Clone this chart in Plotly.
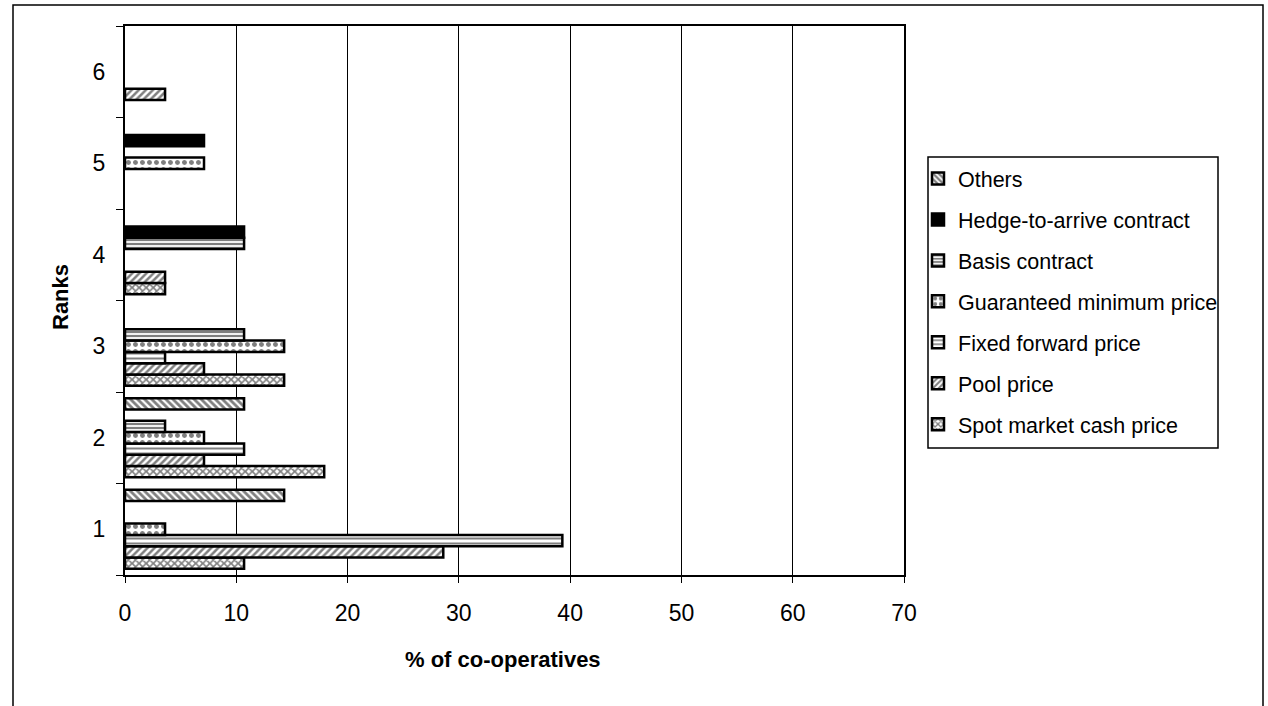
import plotly.graph_objects as go

# Share of co-operatives (%) giving each pricing method a given rank
ranks = ["1", "2", "3", "4", "5", "6"]

spot_market = [10.7, 17.9, 14.3, 3.6, None, None]
pool_price = [28.6, 7.1, 7.1, 3.6, None, 3.6]
fixed_forward = [39.3, 10.7, 3.6, None, None, None]
guaranteed_min = [3.6, 7.1, 14.3, None, 7.1, None]
basis_contract = [None, 3.6, 10.7, 10.7, None, None]
hedge_to_arrive = [None, None, None, 10.7, 7.1, None]
others = [14.3, 10.7, None, None, None, None]

x_ticks = [0, 10, 20, 30, 40, 50, 60, 70]

series = [
    ("Spot market cash price", spot_market, dict(shape="x", size=5, solidity=0.55)),
    ("Pool price", pool_price, dict(shape="/", size=5, solidity=0.5)),
    ("Fixed forward price", fixed_forward, dict(shape="-", size=5, solidity=0.4)),
    ("Guaranteed minimum price", guaranteed_min, dict(shape=".", size=7, solidity=0.4)),
    ("Basis contract", basis_contract, dict(shape="-", size=4, solidity=0.55)),
    ("Hedge-to-arrive contract", hedge_to_arrive, None),
    ("Others", others, dict(shape="\\", size=5, solidity=0.55)),
]

FONT = "Arial, Liberation Sans, sans-serif"

fig = go.Figure()
n = len(series)
for i, (name, vals, pat) in enumerate(series):
    marker = dict(line=dict(color="black", width=2.5))
    if pat is None:
        marker["color"] = "black"
    else:
        marker["color"] = "white"
        marker["pattern"] = dict(fgcolor="black", bgcolor="white", fillmode="overlay", **pat)
    fig.add_trace(go.Bar(
        y=ranks, x=vals, name=name, orientation="h",
        marker=marker, legendgroup=f"g{i}", legendrank=n - i,
    ))

# plot area in pixels: x 125..904, y 26..575
W, H = 1268, 706
L, R, T, B = 125, 904, 26, 575
pw, ph = R - L, B - T


def px(x):
    return (x - L) / pw


def py(y):
    return (B - y) / ph


fig.update_layout(
    width=W, height=H,
    margin=dict(l=L, r=W - R, t=T, b=H - B),
    paper_bgcolor="white", plot_bgcolor="white",
    barmode="group", bargap=0.137, bargroupgap=0,
    font=dict(family=FONT, color="black"),
    showlegend=True,
    legend=dict(
        x=px(918), y=py(158), xanchor="left", yanchor="top",
        traceorder="grouped", tracegroupgap=10,
        font=dict(size=21.5, family=FONT, color="black"),
        bgcolor="rgba(0,0,0,0)", borderwidth=0,
    ),
    xaxis=dict(
        range=[0, 70], tickvals=x_ticks, ticktext=[str(v) for v in x_ticks],
        showgrid=True, gridcolor="black", gridwidth=1,
        showline=True, linecolor="black", linewidth=2, mirror=True,
        ticks="outside", ticklen=6, tickwidth=1, tickcolor="black",
        tickfont=dict(size=23), ticklabelstandoff=10, zeroline=False,
    ),
    yaxis=dict(
        type="category", categoryorder="array", categoryarray=ranks,
        tickson="boundaries", ticks="outside", ticklen=7, tickwidth=1, tickcolor="black",
        showline=True, linecolor="black", linewidth=2, mirror=True,
        showgrid=False, tickfont=dict(size=23), ticklabelstandoff=13,
    ),
    shapes=[
        # chart frame
        dict(type="rect", xref="paper", yref="paper",
             x0=px(13), x1=px(1263), y0=py(712), y1=py(5),
             line=dict(color="black", width=1.5), fillcolor="rgba(0,0,0,0)", layer="below"),
        # legend frame
        dict(type="rect", xref="paper", yref="paper",
             x0=px(928), x1=px(1218), y0=py(448), y1=py(157),
             line=dict(color="black", width=1.5), fillcolor="rgba(0,0,0,0)", layer="below"),
    ],
    annotations=[
        dict(text="<b>% of co-operatives</b>", xref="paper", yref="paper",
             x=px(503), y=py(659), xanchor="center", yanchor="middle",
             showarrow=False, font=dict(size=22)),
        dict(text="<b>Ranks</b>", xref="paper", yref="paper",
             x=px(60), y=py(297), xanchor="center", yanchor="middle",
             textangle=-90, showarrow=False, font=dict(size=22)),
    ],
)

fig.write_html("out.html")
